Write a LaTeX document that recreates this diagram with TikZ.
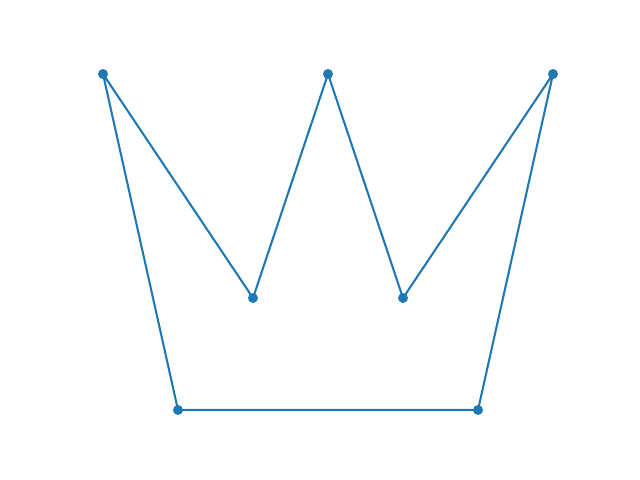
\documentclass[tikz,border=0pt]{standalone}
\usepackage{tikz}
\usetikzlibrary{positioning}
\definecolor{crownblue}{HTML}{1F77B4}
\newcommand{\crownpointsize}{3.6pt}
\tikzset{
  crown edge/.style={line width=1.5pt,draw=crownblue},
  crown dot/.style={fill=crownblue}
}
\newcommand{\CrownDot}[1]{\fill[crown dot] (#1) circle (\crownpointsize);}
\begin{document}
\begin{tikzpicture}[x=0.0254cm,y=-0.0254cm,line cap=round,line join=round]
  \useasboundingbox (0,0) rectangle (640,480);
  \coordinate (c1) at (103, 74);
  \coordinate (c2) at (253,298);
  \coordinate (c3) at (328, 74);
  \coordinate (c4) at (403,298);
  \coordinate (c5) at (553, 74);
  \coordinate (c6) at (478,410);
  \coordinate (c7) at (178,410);

  \draw[crown edge] (c1)--(c2)--(c3)--(c4)--(c5)--(c6)--(c7)--(c1);

  \foreach \p in {c1,c2,c3,c4,c5,c6,c7} {\CrownDot{\p}}
\end{tikzpicture}
\end{document}
